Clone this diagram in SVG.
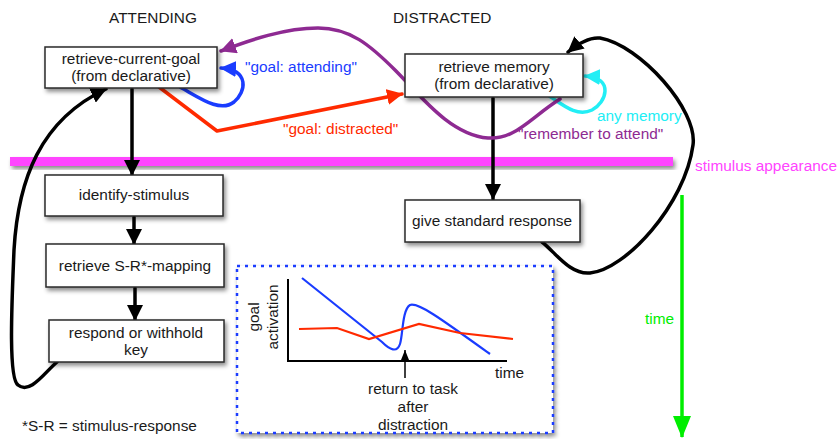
<svg xmlns="http://www.w3.org/2000/svg" width="837" height="439" viewBox="0 0 837 439">
<defs>
<style>
text{font-family:"Liberation Sans",Arial,sans-serif;font-size:15.4px;fill:#1a1a1a}
.box{fill:#fff;stroke:#2a2a2a;stroke-width:1.5}
.c{fill:none;stroke-width:3.5;stroke-linecap:round;stroke-linejoin:round}
.mid{text-anchor:middle}
</style>
<filter id="sh" x="-20%" y="-20%" width="150%" height="160%">
<feDropShadow dx="2" dy="3" stdDeviation="2" flood-color="#000" flood-opacity="0.45"/>
</filter>
<marker id="ak" markerUnits="userSpaceOnUse" markerWidth="16" markerHeight="16" refX="15" refY="8" orient="auto"><path d="M0,0 L16,8 L0,16 z" fill="#000"/></marker>
<marker id="ar" markerUnits="userSpaceOnUse" markerWidth="16" markerHeight="16" refX="15" refY="8" orient="auto"><path d="M0,0 L16,8 L0,16 z" fill="#ff2a00"/></marker>
<marker id="ab" markerUnits="userSpaceOnUse" markerWidth="16" markerHeight="16" refX="15" refY="8" orient="auto"><path d="M0,0 L16,8 L0,16 z" fill="#1a3cff"/></marker>
<marker id="ac" markerUnits="userSpaceOnUse" markerWidth="16" markerHeight="16" refX="15" refY="8" orient="auto"><path d="M0,0 L16,8 L0,16 z" fill="#22eef5"/></marker>
<marker id="ap" markerUnits="userSpaceOnUse" markerWidth="16" markerHeight="16" refX="15" refY="8" orient="auto"><path d="M0,0 L16,8 L0,16 z" fill="#8e2a92"/></marker>
<marker id="ag" markerUnits="userSpaceOnUse" markerWidth="22" markerHeight="18" refX="21" refY="9" orient="auto"><path d="M0,0 L22,9 L0,18 z" fill="#00ee00"/></marker>
<marker id="as" markerUnits="userSpaceOnUse" markerWidth="10" markerHeight="8" refX="10" refY="4" orient="auto"><path d="M0,0 L10,4 L0,8 z" fill="#000"/></marker>
</defs>
<rect width="837" height="439" fill="#fff"/>

<g id="headers">
<text x="153" y="23" class="mid">ATTENDING</text>
<text x="393" y="23">DISTRACTED</text>
</g>

<g id="stimulus-bar">
<rect x="10" y="157" width="663" height="9" fill="#ff44ff" filter="url(#sh)"/>
<text x="695" y="171" style="fill:#ff44ff">stimulus appearance</text>
</g>

<g id="time-axis">
<line x1="682" y1="195" x2="682" y2="437" stroke="#00ee00" stroke-width="3.5" marker-end="url(#ag)"/>
<text x="645" y="324" style="fill:#00ee00">time</text>
</g>

<g id="connectors">
<path class="c" d="M132,89 L132,175" stroke="#000" marker-end="url(#ak)"/>
<path class="c" d="M134,217 L134,244" stroke="#000" marker-end="url(#ak)"/>
<path class="c" d="M135,288 L135,320" stroke="#000" marker-end="url(#ak)"/>
<path class="c" d="M493,98 L493,199" stroke="#000" marker-end="url(#ak)"/>
<path class="c" d="M57,362 C45,372 30,395 18,385 C8,378 12,300 14,250 C18,180 40,120 106,89" stroke="#000" marker-end="url(#ak)"/>
<path class="c" d="M542,242 C555,252 570,275 590,273 C625,270 685,205 693,145 C698,110 640,45 600,38 C590,37 580,42 568,52" stroke="#000" marker-end="url(#ak)"/>
<path class="c" d="M159,87 L217,131 L402,94" stroke="#ff2a00" marker-end="url(#ar)"/>
<path class="c" d="M180,87 C200,98 220,113 234,102 C246,92 250,70 221,68" stroke="#1a3cff" marker-end="url(#ab)"/>
<path class="c" d="M546,94 C560,102 575,118 592,110 C606,103 615,78 585,76" stroke="#22eef5" marker-end="url(#ac)"/>
<path class="c" d="M560,99 C530,118 515,140 488,138 C450,135 420,95 395,70 C370,45 350,28 318,28 C285,28 250,40 221,51" stroke="#8e2a92" marker-end="url(#ap)"/>
<text x="283" y="134" style="fill:#ff2a00">"goal: distracted"</text>
<text x="245" y="72" style="fill:#1a3cff">"goal: attending"</text>
<text x="597" y="121" style="fill:#22eef5">any memory</text>
<text x="518" y="139" style="fill:#8e2a92">"remember to attend"</text>
</g>

<g id="retrieve-current-goal">
<rect class="box" x="45" y="47" width="172" height="41" filter="url(#sh)"/>
<text x="131" y="64" class="mid">retrieve-current-goal</text>
<text x="131" y="81" class="mid">(from declarative)</text>
</g>

<g id="retrieve-memory">
<rect class="box" x="405" y="54" width="178" height="43" filter="url(#sh)"/>
<text x="494" y="72" class="mid">retrieve memory</text>
<text x="494" y="89" class="mid">(from declarative)</text>
</g>

<g id="identify-stimulus">
<rect class="box" x="45" y="175" width="178" height="41" filter="url(#sh)"/>
<text x="134" y="200" class="mid">identify-stimulus</text>
</g>

<g id="retrieve-sr-mapping">
<rect class="box" x="46" y="244" width="178" height="43" filter="url(#sh)"/>
<text x="135" y="271" class="mid">retrieve S-R*-mapping</text>
</g>

<g id="respond">
<rect class="box" x="49" y="320" width="175" height="42" filter="url(#sh)"/>
<text x="136" y="338" class="mid">respond or withhold</text>
<text x="136" y="355" class="mid">key</text>
</g>

<g id="give-standard-response">
<rect class="box" x="405" y="200" width="175" height="42" filter="url(#sh)"/>
<text x="492" y="226" class="mid">give standard response</text>
</g>

<g id="footnote">
<text x="22" y="431">*S-R = stimulus-response</text>
</g>

<g id="chart">
<rect x="237" y="266" width="316" height="167" fill="#fff" stroke="#1a3cff" stroke-width="2.5" stroke-dasharray="3,5" filter="url(#sh)"/>
<path d="M288,279 L288,361 L507,361" fill="none" stroke="#000" stroke-width="2"/>
<path d="M302,278 L382,342 C390,350 397,353 400,344 C403,335 402,310 410,305 C418,302 440,318 490,354" fill="none" stroke="#1a3cff" stroke-width="2.2"/>
<polyline points="299,329 337,328 369,339 419,324 460,333 513,339" fill="none" stroke="#ff2a00" stroke-width="2.2"/>
<line x1="405" y1="378" x2="405" y2="350" stroke="#000" stroke-width="1.5" marker-end="url(#as)"/>
<text transform="translate(259,317) rotate(-90)" class="mid">goal</text>
<text transform="translate(278,317) rotate(-90)" class="mid">activation</text>
<text x="495" y="378">time</text>
<text x="413" y="394" class="mid">return to task</text>
<text x="413" y="412" class="mid">after</text>
<text x="413" y="430" class="mid">distraction</text>
</g>
</svg>
